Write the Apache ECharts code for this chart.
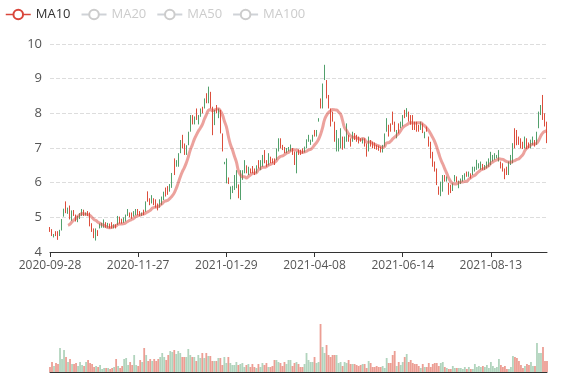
<!DOCTYPE html>
<html>
<head>
<meta charset="utf-8">
<script src="https://cdn.jsdelivr.net/npm/echarts@6/dist/echarts.min.js"></script>
<style>html,body{margin:0;padding:0;background:#fff}#c{width:577px;height:380px}</style>
</head>
<body>
<div id="c"></div>
<script>
const dates = [
'2020-09-28','2020-09-29','2020-09-30',
'2020-10-01','2020-10-02','2020-10-05','2020-10-06','2020-10-07','2020-10-08','2020-10-09','2020-10-12','2020-10-13','2020-10-14','2020-10-15','2020-10-16','2020-10-19','2020-10-20','2020-10-21','2020-10-22','2020-10-23','2020-10-26','2020-10-27','2020-10-28','2020-10-29','2020-10-30',
'2020-11-02','2020-11-03','2020-11-04','2020-11-05','2020-11-06','2020-11-09','2020-11-10','2020-11-11','2020-11-12','2020-11-13','2020-11-16','2020-11-17','2020-11-18','2020-11-19','2020-11-20','2020-11-23','2020-11-24','2020-11-25','2020-11-26','2020-11-27','2020-11-30',
'2020-12-01','2020-12-02','2020-12-03','2020-12-04','2020-12-07','2020-12-08','2020-12-09','2020-12-10','2020-12-11','2020-12-14','2020-12-15','2020-12-16','2020-12-17','2020-12-18','2020-12-21','2020-12-22','2020-12-23','2020-12-24','2020-12-25','2020-12-28','2020-12-29','2020-12-30','2020-12-31',
'2021-01-04','2021-01-05','2021-01-06','2021-01-07','2021-01-08','2021-01-11','2021-01-12','2021-01-13','2021-01-14','2021-01-15','2021-01-18','2021-01-19','2021-01-20','2021-01-21','2021-01-22','2021-01-25','2021-01-26','2021-01-27','2021-01-28','2021-01-29',
'2021-02-01','2021-02-02','2021-02-03','2021-02-04','2021-02-05','2021-02-08','2021-02-09','2021-02-10','2021-02-18','2021-02-19','2021-02-22','2021-02-23','2021-02-24','2021-02-25','2021-02-26',
'2021-03-01','2021-03-02','2021-03-03','2021-03-04','2021-03-05','2021-03-08','2021-03-09','2021-03-10','2021-03-11','2021-03-12','2021-03-15','2021-03-16','2021-03-17','2021-03-18','2021-03-19','2021-03-22','2021-03-23','2021-03-24','2021-03-25','2021-03-26','2021-03-29','2021-03-30','2021-03-31',
'2021-04-01','2021-04-02','2021-04-05','2021-04-06','2021-04-07','2021-04-08','2021-04-09','2021-04-12','2021-04-13','2021-04-14','2021-04-15','2021-04-16','2021-04-19','2021-04-20','2021-04-21','2021-04-22','2021-04-23','2021-04-26','2021-04-27','2021-04-28','2021-04-29','2021-04-30',
'2021-05-06','2021-05-07','2021-05-10','2021-05-11','2021-05-12','2021-05-13','2021-05-14','2021-05-17','2021-05-18','2021-05-19','2021-05-20','2021-05-21','2021-05-24','2021-05-25','2021-05-26','2021-05-27','2021-05-28','2021-05-31',
'2021-06-01','2021-06-02','2021-06-03','2021-06-04','2021-06-07','2021-06-08','2021-06-09','2021-06-10','2021-06-11','2021-06-14','2021-06-15','2021-06-16','2021-06-17','2021-06-18','2021-06-21','2021-06-22','2021-06-23','2021-06-24','2021-06-25','2021-06-28','2021-06-29','2021-06-30',
'2021-07-01','2021-07-02','2021-07-05','2021-07-06','2021-07-07','2021-07-08','2021-07-09','2021-07-12','2021-07-13','2021-07-14','2021-07-15','2021-07-16','2021-07-19','2021-07-20','2021-07-21','2021-07-22','2021-07-23','2021-07-26','2021-07-27','2021-07-28','2021-07-29','2021-07-30',
'2021-08-02','2021-08-03','2021-08-04','2021-08-05','2021-08-06','2021-08-09','2021-08-10','2021-08-11','2021-08-12','2021-08-13','2021-08-16','2021-08-17','2021-08-18','2021-08-19','2021-08-20','2021-08-23','2021-08-24','2021-08-25','2021-08-26','2021-08-27','2021-08-30','2021-08-31',
'2021-09-01','2021-09-02','2021-09-03','2021-09-06','2021-09-07','2021-09-08','2021-09-09','2021-09-10','2021-09-13','2021-09-14','2021-09-15','2021-09-16','2021-09-17','2021-09-20','2021-09-21','2021-09-22'
];

// [open, close, low, high]
const ohlc = [
[4.70,4.62,4.58,4.72],[4.64,4.50,4.46,4.66],[4.45,4.50,4.42,4.52],[4.58,4.48,4.46,4.60],[4.58,4.42,4.35,4.60],
[4.48,4.62,4.46,4.64],[4.64,4.92,4.62,4.95],[5.05,5.22,5.02,5.25],[5.42,5.15,5.12,5.46],[5.13,5.25,5.10,5.28],
[5.30,4.98,4.94,5.34],[4.95,5.18,4.90,5.20],[5.18,5.07,5.04,5.21],[5.06,4.92,4.88,5.08],[4.90,5.02,4.86,5.04],
[5.00,5.10,4.95,5.12],[5.08,5.20,5.04,5.24],[5.20,5.08,5.04,5.22],[5.08,5.12,5.05,5.14],[5.14,5.06,5.04,5.18],
[5.10,4.78,4.74,5.14],[4.80,4.62,4.58,4.83],[4.65,4.45,4.40,4.68],[4.42,4.65,4.33,4.68],[4.62,4.50,4.46,4.63],
[4.70,4.80,4.68,4.82],[4.72,4.82,4.70,4.84],[4.74,4.90,4.70,4.94],[4.84,4.74,4.70,4.86],[4.74,4.82,4.70,4.84],
[4.80,4.72,4.68,4.82],[4.84,4.72,4.68,4.86],[4.72,4.78,4.68,4.80],[4.78,4.72,4.68,4.80],[4.80,5.00,4.78,5.04],
[5.00,4.86,4.82,5.02],[4.92,4.85,4.82,4.96],[4.86,4.98,4.84,5.00],[4.92,5.06,4.88,5.08],[5.06,5.20,5.04,5.24],
[5.12,5.02,5.00,5.14],[5.10,4.98,4.96,5.14],[5.04,5.14,5.02,5.18],[5.10,5.22,5.06,5.24],[5.22,5.10,5.06,5.24],
[5.14,5.06,5.04,5.18],[5.06,5.12,5.04,5.14],[5.20,5.10,5.06,5.22],[5.18,5.42,5.16,5.46],[5.72,5.48,5.45,5.75],
[5.52,5.38,5.35,5.55],[5.42,5.60,5.40,5.64],[5.54,5.38,5.35,5.55],[5.48,5.32,5.28,5.52],[5.36,5.24,5.20,5.40],
[5.30,5.48,5.28,5.52],[5.40,5.56,5.36,5.60],[5.52,5.70,5.50,5.74],[5.84,5.64,5.60,5.86],[5.86,5.70,5.65,5.90],
[5.76,5.92,5.74,5.96],[5.88,6.24,5.85,6.28],[6.66,6.26,6.22,6.70],[6.48,6.62,6.46,6.65],[6.50,6.82,6.46,6.85],
[6.88,7.20,6.85,7.23],[7.34,7.02,6.99,7.38],[7.10,6.84,6.80,7.13],[6.84,7.06,6.80,7.08],[7.10,7.44,7.08,7.47],
[7.50,7.92,7.47,7.95],[7.92,7.70,7.68,7.95],[7.70,7.88,7.68,7.91],[8.10,7.84,7.81,8.14],[7.72,7.92,7.68,7.95],
[7.92,8.10,7.90,8.14],[8.16,8.02,8.00,8.19],[8.16,8.40,8.14,8.43],[8.55,8.32,8.29,8.58],[8.34,8.72,8.29,8.77],
[8.60,8.18,8.14,8.62],[8.16,7.40,7.37,8.19],[7.70,8.06,7.66,8.10],[8.22,8.02,8.00,8.24],[7.90,8.12,7.86,8.14],
[8.06,7.46,7.42,8.10],[7.40,6.94,6.90,7.42],[6.54,6.58,6.53,6.60],[6.02,6.66,5.98,6.70],[6.12,5.98,5.96,6.15],
[5.56,5.86,5.52,5.89],[5.74,5.88,5.70,5.91],[5.82,6.18,5.79,6.22],[5.90,6.32,5.84,6.36],[5.92,5.58,5.55,5.95],
[5.60,6.30,5.50,6.36],[6.10,6.32,6.08,6.36],[6.30,6.62,6.27,6.65],[6.48,6.30,6.27,6.50],[6.26,6.42,6.22,6.46],
[6.40,6.30,6.27,6.41],[6.46,6.32,6.27,6.48],[6.38,6.26,6.22,6.41],[6.30,6.46,6.27,6.50],[6.62,6.44,6.41,6.65],
[6.40,6.60,6.36,6.65],[6.50,6.76,6.46,6.80],[6.90,6.60,6.56,6.94],[6.62,6.48,6.46,6.65],[6.52,6.80,6.50,6.85],
[6.72,6.58,6.56,6.75],[6.68,6.58,6.56,6.70],[6.66,6.54,6.51,6.70],[6.68,6.95,6.65,6.99],[6.94,7.24,6.90,7.28],
[7.24,7.02,6.99,7.28],[7.06,6.96,6.94,7.09],[7.00,6.88,6.85,7.03],[6.88,6.98,6.85,7.00],[6.92,7.00,6.90,7.03],
[6.92,7.08,6.90,7.10],[6.98,6.84,6.80,7.00],[6.88,6.56,6.51,6.90],[6.40,6.86,6.27,6.90],[6.94,6.84,6.80,6.96],
[6.92,6.82,6.80,6.95],[6.96,6.86,6.84,6.99],[6.90,7.00,6.87,7.04],[7.02,7.22,6.99,7.25],[7.20,7.36,7.18,7.38],
[7.12,7.22,7.09,7.24],[7.20,7.34,7.18,7.38],[7.50,7.36,7.33,7.52],[7.36,7.50,7.33,7.52],[7.77,7.84,7.76,7.86],
[8.40,8.16,8.14,8.43],[8.18,8.82,8.14,8.86],[9.00,9.36,8.96,9.40],[8.94,8.46,8.43,8.96],[8.50,8.18,8.14,8.53],
[8.12,7.66,7.62,8.14],[8.02,7.80,7.76,8.05],[7.74,7.22,7.18,7.76],[6.96,7.48,6.90,7.52],[7.00,7.24,6.90,7.28],
[7.04,7.52,6.99,7.57],[7.30,6.98,6.95,7.33],[7.02,7.30,6.99,7.33],[7.22,7.66,7.18,7.71],[7.36,7.20,7.18,7.38],
[7.26,7.06,7.04,7.28],[7.22,7.44,7.18,7.47],[7.40,7.26,7.23,7.43],[7.36,7.20,7.18,7.38],[7.30,7.16,7.13,7.33],
[7.26,7.20,7.18,7.28],[7.16,7.26,7.13,7.28],[7.26,7.08,7.04,7.28],[7.10,6.78,6.75,7.13],[6.94,7.30,6.90,7.33],
[7.22,7.06,7.04,7.23],[7.16,7.02,6.99,7.18],[7.14,7.00,6.97,7.16],[7.06,6.98,6.95,7.09],[7.04,6.94,6.92,7.07],
[7.02,6.90,6.87,7.04],[6.90,7.06,6.87,7.09],[7.06,7.38,7.04,7.42],[7.50,7.82,7.47,7.86],[7.64,7.36,7.33,7.67],
[7.68,7.50,7.47,7.71],[8.02,7.70,7.67,8.05],[7.74,7.50,7.47,7.76],[7.30,7.50,7.28,7.52],[7.68,7.46,7.42,7.71],
[7.60,7.74,7.57,7.76],[7.66,7.92,7.62,7.95],[8.08,7.88,7.86,8.10],[7.92,8.12,7.90,8.15],[8.02,7.80,7.76,8.05],
[7.92,7.70,7.67,7.95],[7.94,7.56,7.52,7.95],[7.74,7.56,7.52,7.76],[7.74,7.50,7.47,7.76],[7.64,7.50,7.47,7.67],
[7.54,7.74,7.52,7.76],[7.68,7.46,7.43,7.71],[7.30,7.44,7.28,7.47],[7.60,7.48,7.47,7.62],[7.30,7.06,7.04,7.33],
[7.16,6.74,6.70,7.18],[6.86,6.50,6.46,6.89],[6.58,6.34,6.32,6.61],[6.38,5.96,5.93,6.41],[5.86,5.68,5.65,5.89],
[5.64,6.00,5.61,6.03],[5.78,6.18,5.74,6.22],[6.16,6.06,6.03,6.22],[6.04,6.16,6.03,6.18],[5.96,5.68,5.65,5.99],
[5.92,5.74,5.70,5.94],[5.80,5.96,5.76,5.98],[6.04,6.20,6.03,6.22],[6.16,6.04,6.01,6.18],[5.88,6.04,5.84,6.06],
[6.00,6.10,5.96,6.12],[6.04,6.20,6.03,6.22],[6.10,6.24,6.08,6.27],[6.30,6.20,6.17,6.32],[6.20,6.30,6.17,6.32],
[6.24,6.14,6.12,6.27],[6.24,6.42,6.22,6.46],[6.36,6.44,6.32,6.46],[6.40,6.62,6.37,6.66],[6.44,6.54,6.41,6.56],
[6.40,6.58,6.37,6.61],[6.52,6.42,6.37,6.54],[6.40,6.50,6.37,6.51],[6.44,6.58,6.41,6.61],[6.50,6.68,6.46,6.70],
[6.54,6.86,6.51,6.89],[6.64,6.78,6.61,6.80],[6.68,6.82,6.66,6.85],[6.72,6.78,6.70,6.80],[6.64,6.90,6.61,6.94],
[6.58,6.44,6.41,6.61],[6.54,6.38,6.32,6.56],[6.38,6.14,6.10,6.41],[6.44,6.28,6.22,6.46],[6.28,6.58,6.22,6.61],
[6.54,6.76,6.51,6.80],[6.60,7.10,6.56,7.14],[7.54,7.02,6.99,7.57],[7.50,7.10,7.08,7.52],[7.30,7.12,7.09,7.33],
[7.26,7.02,6.99,7.28],[7.16,7.00,6.97,7.18],[7.02,7.30,6.99,7.33],[7.26,7.00,6.97,7.28],[7.14,7.02,6.99,7.16],
[7.02,7.22,6.99,7.24],[7.12,7.30,7.09,7.33],[7.20,7.06,7.04,7.23],[7.12,7.44,7.09,7.47],[7.60,8.02,7.57,8.05],
[7.98,8.22,7.95,8.24],[8.50,7.84,7.81,8.53],[7.98,7.66,7.62,8.00],[7.74,7.18,7.14,7.76]
];

const volumes = [
5,10,6,9,8,24,13,22,15,10,13,8,8,9,6,10,7,6,10,12,9,8,5,6,5,7,3,4,4,4,3,4,5,13,6,4,6,13,14,7,
10,7,17,7,6,12,10,24,17,11,13,11,13,11,13,15,19,15,12,17,21,20,22,18,21,19,15,15,15,23,17,15,15,11,17,14,19,14,19,16,
16,11,11,11,14,14,7,15,9,15,9,7,7,10,7,8,9,5,7,8,5,8,5,4,8,5,9,7,9,5,5,6,12,12,10,9,6,10,8,12,
12,6,9,10,8,5,5,8,19,12,10,10,15,9,10,48,25,19,27,17,15,17,17,17,9,10,6,10,9,12,8,8,8,7,6,7,8,8,4,11,
9,5,5,6,5,5,6,4,14,9,9,17,21,6,10,7,10,15,18,10,12,9,8,8,6,4,8,5,5,9,5,8,9,9,6,9,10,5,4,3,
3,6,4,4,4,4,3,5,3,5,3,3,8,5,6,5,6,5,7,4,10,6,4,5,13,7,5,6,3,3,5,16,15,14,11,7,4,6,8,7,
10,6,6,29,19,19,25,11,11
];

const maNames = ['MA10', 'MA20', 'MA50', 'MA100'];
const maPeriods = [10, 20, 50, 100];
const maColors = ['#d9463b', '#5b8ff9', '#f6bd16', '#7262fd'];

const upColor = '#52a06c';
const downColor = '#dc4e3c';

function calcMA(n) {
  const out = [];
  for (let i = 0; i < ohlc.length; i++) {
    if (i < n - 1) { out.push('-'); continue; }
    let s = 0;
    for (let j = 0; j < n; j++) s += ohlc[i - j][1];
    out.push(+(s / n).toFixed(3));
  }
  return out;
}

const chart = echarts.init(document.getElementById('c'), null, { renderer: 'canvas' });
const font = "'Open Sans', 'Noto Sans', sans-serif";

const maSeries = maNames.map((name, k) => ({
  name: name,
  type: 'line',
  data: calcMA(maPeriods[k]),
  smooth: true,
  showSymbol: false,
  symbol: 'emptyCircle',
  color: maColors[k],
  lineStyle: { width: 3, opacity: 0.5, color: maColors[k] },
  xAxisIndex: 0,
  yAxisIndex: 0,
  z: 3
}));

chart.setOption({
  animation: false,
  textStyle: { fontFamily: font },
  legend: {
    left: 0, top: 3, itemGap: 10, itemWidth: 25, itemHeight: 12,
    data: maNames,
    selected: { MA10: true, MA20: false, MA50: false, MA100: false },
    textStyle: { color: '#333', fontSize: 13, fontFamily: font },
    inactiveColor: '#ccc',
    lineStyle: { width: 1.5, opacity: 1 },
    itemStyle: { borderWidth: 1.2 }
  },
  grid: [
    { left: 50, right: 30, top: 44, height: 208 },
    { left: 50, right: 30, top: 322, height: 50 }
  ],
  xAxis: [
    {
      type: 'category', data: dates, gridIndex: 0, boundaryGap: false,
      axisLine: { lineStyle: { color: '#333' } },
      axisTick: { show: true, interval: 43, lineStyle: { color: '#333' } },
      axisLabel: { interval: 43, color: '#555', fontSize: 12, fontFamily: font, margin: 8 },
      splitLine: { show: false }
    },
    {
      type: 'category', data: dates, gridIndex: 1, boundaryGap: false,
      axisLine: { lineStyle: { color: '#333' } },
      axisTick: { show: false },
      axisLabel: { show: false },
      splitLine: { show: false }
    }
  ],
  yAxis: [
    {
      type: 'value', gridIndex: 0, min: 4, max: 10, interval: 1,
      axisLine: { show: false }, axisTick: { show: false },
      axisLabel: { color: '#555', fontSize: 13, fontFamily: font, margin: 8 },
      splitLine: { show: true, lineStyle: { type: 'dashed', color: '#ddd' } }
    },
    {
      type: 'value', gridIndex: 1, min: 0, max: 50,
      axisLine: { show: false }, axisTick: { show: false },
      axisLabel: { show: false }, splitLine: { show: false }
    }
  ],
  series: [
    {
      name: 'K', type: 'candlestick', data: ohlc, xAxisIndex: 0, yAxisIndex: 0,
      itemStyle: { color: upColor, color0: downColor, borderColor: upColor, borderColor0: downColor, borderWidth: 1 }
    },
    ...maSeries,
    {
      name: 'Volume', type: 'bar', xAxisIndex: 1, yAxisIndex: 1,
      barCategoryGap: '10%',
      data: volumes.map((v, i) => ({
        value: v,
        itemStyle: {
          color: ohlc[i][1] >= ohlc[i][0] ? 'rgba(82,160,108,0.45)' : 'rgba(220,78,60,0.55)'
        }
      }))
    }
  ]
});
</script>
</body>
</html>
